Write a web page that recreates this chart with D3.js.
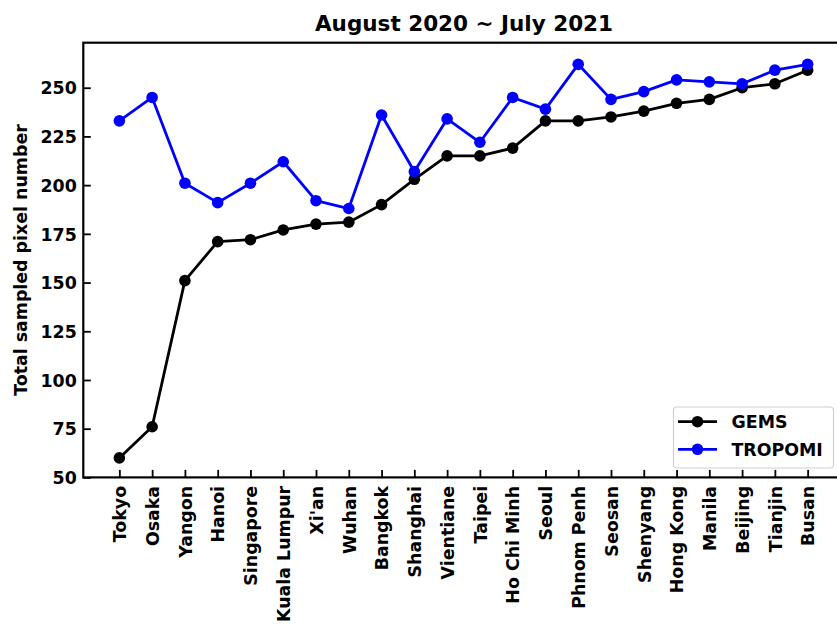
<!DOCTYPE html>
<html>
<head>
<meta charset="utf-8">
<script src="https://cdn.jsdelivr.net/npm/d3@7"></script>
<style>
  html, body { margin: 0; padding: 0; background: #fff; }
  svg { display: block; }
  text { font-family: "DejaVu Sans", sans-serif; font-weight: bold; fill: #000; }
</style>
</head>
<body>
<svg id="chart" width="837" height="624"></svg>
<script>
const cities = ["Tokyo","Osaka","Yangon","Hanoi","Singapore","Kuala Lumpur","Xi'an","Wuhan","Bangkok","Shanghai","Vientiane","Taipei","Ho Chi Minh","Seoul","Phnom Penh","Seosan","Shenyang","Hong Kong","Manila","Beijing","Tianjin","Busan"];
const gems    = [60, 76, 151, 171, 172, 177, 180, 181, 190, 203, 215, 215, 219, 233, 233, 235, 238, 242, 244, 250, 252, 259];
const tropomi = [233, 245, 201, 191, 201, 212, 192, 188, 236, 207, 234, 222, 245, 239, 262, 244, 248, 254, 253, 252, 259, 262];
const yTicks = [50, 75, 100, 125, 150, 175, 200, 225, 250];
const title = "August 2020 ~ July 2021";
const yLabel = "Total sampled pixel number";
const seriesNames = ["GEMS", "TROPOMI"];
const seriesColors = ["#000000", "#0000ff"];

const svg = d3.select("#chart");
const pLeft = 83.3, pRight = 843.7, pTop = 42.7, pBottom = 477.4;

const x = d3.scaleLinear().domain([-1.1, cities.length - 1 + 1.1]).range([pLeft, pRight]);
const y = d3.scaleLinear().domain([50, 273.1]).range([pBottom, pTop]);

const fs = 17.4;

// Title
svg.append("text").attr("x", 464).attr("y", 30.5)
  .attr("text-anchor", "middle").style("font-size", "21.5px").text(title);

// Y label
svg.append("text")
  .attr("transform", `translate(27,${(pTop + pBottom) / 2}) rotate(-90)`)
  .attr("text-anchor", "middle").style("font-size", fs + "px").text(yLabel);

// Y axis (ticks inward)
const yAxis = d3.axisLeft(y).tickValues(yTicks).tickSizeInner(-7.5).tickSizeOuter(0);
const gy = svg.append("g").attr("transform", `translate(${pLeft},0)`).call(yAxis);
gy.select(".domain").remove();
gy.selectAll(".tick line").attr("stroke", "#000").attr("stroke-width", 1.8);
gy.selectAll(".tick text").style("font-size", fs + "px").attr("dy", "0.36em").attr("x", -6.5);

// X axis (ticks inward)
const xAxis = d3.axisBottom(x).tickValues(d3.range(cities.length)).tickFormat(i => cities[i])
  .tickSizeInner(-7.5).tickSizeOuter(0);
const gx = svg.append("g").attr("transform", `translate(0,${pBottom})`).call(xAxis);
gx.select(".domain").remove();
gx.selectAll(".tick line").attr("stroke", "#000").attr("stroke-width", 1.8);
gx.selectAll(".tick text")
  .style("font-size", fs + "px")
  .attr("text-anchor", "end")
  .attr("transform", "rotate(-90)")
  .attr("x", -8.5).attr("y", 0).attr("dy", "0.36em");

// Frame (spines)
svg.append("rect").attr("x", pLeft).attr("y", pTop)
  .attr("width", pRight - pLeft).attr("height", pBottom - pTop)
  .attr("fill", "none").attr("stroke", "#000").attr("stroke-width", 2.2);

// Lines
const seriesData = [gems, tropomi];
const line = d3.line().x((d, i) => x(i)).y(d => y(d));
seriesData.forEach((vals, k) => {
  const g = svg.append("g");
  g.append("path").datum(vals).attr("d", line)
    .attr("fill", "none").attr("stroke", seriesColors[k]).attr("stroke-width", 2.8)
    .attr("stroke-linejoin", "round");
  g.selectAll("circle").data(vals).enter().append("circle")
    .attr("cx", (d, i) => x(i)).attr("cy", d => y(d)).attr("r", 5.8)
    .attr("fill", seriesColors[k]);
});

// Legend
const lg = svg.append("g");
lg.append("rect").attr("x", 673.5).attr("y", 407).attr("width", 160).attr("height", 61)
  .attr("rx", 3.5).attr("fill", "#fff").attr("fill-opacity", 0.85)
  .attr("stroke", "#d0d0d0").attr("stroke-width", 1.2);
seriesNames.forEach((name, k) => {
  const ly = 421.7 + k * 27.6;
  lg.append("line").attr("x1", 678).attr("x2", 717).attr("y1", ly).attr("y2", ly)
    .attr("stroke", seriesColors[k]).attr("stroke-width", 2.8);
  lg.append("circle").attr("cx", 697.5).attr("cy", ly).attr("r", 5.8).attr("fill", seriesColors[k]);
  lg.append("text").attr("x", 731.5).attr("y", ly).attr("dy", "0.36em")
    .style("font-size", fs + "px").text(name);
});
</script>
</body>
</html>
